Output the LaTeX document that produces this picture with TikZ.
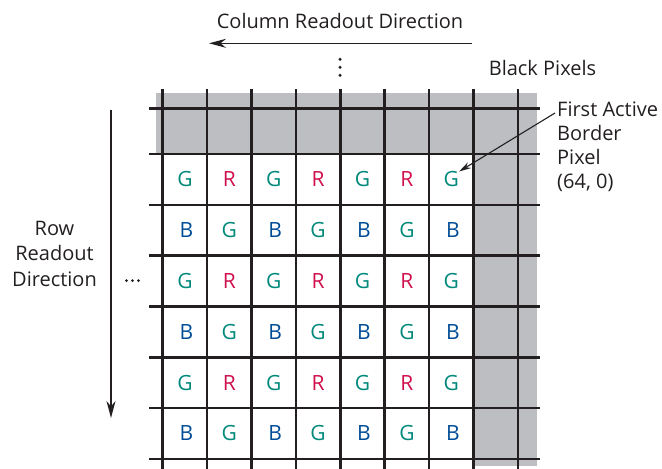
\documentclass[tikz,border=0pt]{standalone}
\usepackage{fontspec}
\setmainfont{Open Sans}
\usetikzlibrary{arrows.meta}
\definecolor{cG}{RGB}{0,136,122}
\definecolor{cR}{RGB}{208,16,76}
\definecolor{cB}{RGB}{0,76,150}
\definecolor{cgray}{RGB}{189,190,194}
\definecolor{cline}{RGB}{35,31,32}
\tikzset{
  gridline/.style={draw=cline, line width=2.6pt},
  bigarrow/.style={draw=cline, line width=1.4pt, -{Stealth[length=17pt,width=9pt]}},
  ptrarrow/.style={draw=cline, line width=1.1pt, -{Stealth[length=12pt,width=6.5pt]}},
  lbl/.style={font=\fontsize{20}{24}\selectfont, text=cline, inner sep=0pt},
  cell/.style={font=\fontsize{21}{24}\selectfont, inner sep=0pt, anchor=center},
  dotmark/.style={fill=cline, draw=none}
}
\begin{document}
\begin{tikzpicture}[x=1pt,y=-1pt]
\useasboundingbox (0,0) rectangle (662,469);
% gray black-pixel region
\fill[cgray] (156,92.7) rectangle (537,154);
\fill[cgray] (473.5,154) rectangle (537,466);
% grid
\foreach \i in {0,...,8} {
  \draw[gridline] ({162.7+44.4*\i},89) -- ({162.7+44.4*\i},469);
}
\draw[gridline] (149,108.3) -- (540,108.3);
\foreach \j in {0,...,6} {
  \draw[gridline] (149,{154+50.8*\j}) -- (540,{154+50.8*\j});
}
% letters
\foreach \r in {0,2,4} {
  \foreach \c in {0,2,4,6} {
    \node[cell, text=cG] (L-\r-\c) at ({162.7+44.4*(\c+0.5)},{154+50.8*(\r+0.5)}) {G};
  }
  \foreach \c in {1,3,5} {
    \node[cell, text=cR] (L-\r-\c) at ({162.7+44.4*(\c+0.5)},{154+50.8*(\r+0.5)}) {R};
  }
}
\foreach \r in {1,3,5} {
  \foreach \c in {0,2,4,6} {
    \node[cell, text=cB] (L-\r-\c) at ({162.7+44.4*(\c+0.5)+1.5},{154+50.8*(\r+0.5)}) {B};
  }
  \foreach \c in {1,3,5} {
    \node[cell, text=cG] (L-\r-\c) at ({162.7+44.4*(\c+0.5)},{154+50.8*(\r+0.5)}) {G};
  }
}
% column readout
\node[lbl, anchor=base] (coltext) at (340,28.3) {Column Readout Direction};
\coordinate (colS) at (472,43.3);
\coordinate (colE) at (209,43.3);
\draw[bigarrow] (colS) -- (colE);
% vertical dots
\foreach \k/\yy in {1/59.3,2/67.3,3/75.3} {
  \fill[dotmark] (340,\yy) circle (1.7);
}
\node[lbl, anchor=base] (black) at (542.5,75) {Black Pixels};
% row readout
\node[lbl, anchor=base] (row1) at (54.5,235) {Row};
\node[lbl, anchor=base] (row2) at (54.5,260) {Readout};
\node[lbl, anchor=base] (row3) at (54.5,286) {Direction};
\coordinate (rowS) at (111,110);
\coordinate (rowE) at (111,418);
\draw[bigarrow] (rowS) -- (rowE);
\foreach \xx in {126.5,132.5,138.5} {
  \fill[dotmark] (\xx,280.5) circle (1.5);
}
% first active border pixel
\node[lbl, anchor=base west] (fa1) at (557,116) {First Active};
\node[lbl, anchor=base west] (fa2) at (557,140) {Border};
\node[lbl, anchor=base west] (fa3) at (557,164) {Pixel};
\node[lbl, anchor=base west] (fa4) at (557,188) {(64, 0)};
\coordinate (ptrS) at (555,113);
\draw[ptrarrow] (ptrS) -- (L-0-6.north east);
\end{tikzpicture}
\end{document}
